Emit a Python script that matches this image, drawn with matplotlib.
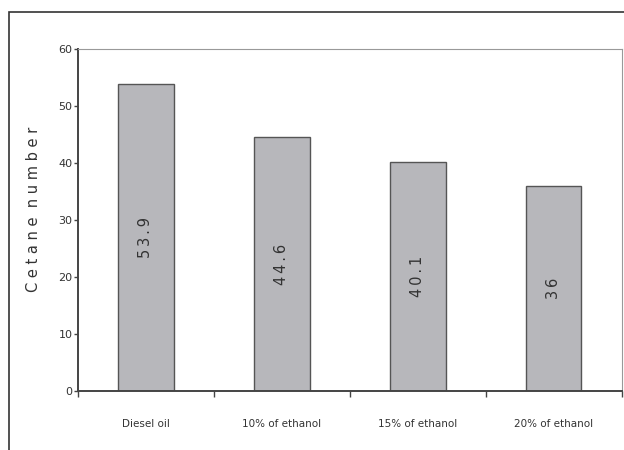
import matplotlib.pyplot as plt
from matplotlib.patches import Rectangle
import numpy as np

# Data
fuels = ['Diesel oil', '10% of ethanol', '15% of ethanol', '20% of ethanol']
cetane = [53.9, 44.6, 40.1, 36]

fig = plt.figure(figsize=(6.24, 4.5), dpi=100)
ax = fig.add_axes([0.125, 0.131, 0.871, 0.760])

# outer chart frame, cut off at the right and bottom edges
fig.patches.append(Rectangle((0.014, -0.1), 1.2, 1.073, transform=fig.transFigure,
                             fill=False, edgecolor='#333333', linewidth=1.2))

x = np.arange(len(fuels))
bars = ax.bar(x, cetane, width=0.41, color='#b7b7bb', edgecolor='#555555', linewidth=1.0)

# value written along each bar, slightly letter-spaced
for b, v in zip(bars, cetane):
    lab = '\u2009'.join(f'{v:g}')
    ax.text(b.get_x() + b.get_width() / 2, b.get_height() / 2, lab,
            rotation=90, ha='center', va='center', fontsize=10.5, color='#333333')

ax.set_xlim(-0.5, len(fuels) - 0.5)
ax.set_ylim(0, 60)
ax.set_yticks(range(0, 61, 10))
ax.tick_params(axis='y', labelsize=8, length=3, width=1, color='#444444',
               labelcolor='#333333', pad=1)

# category names between boundary ticks
ax.set_xticks(np.arange(len(fuels) + 1) - 0.5)
ax.set_xticklabels([])
ax.tick_params(axis='x', length=4, width=1, color='#444444')
for i, name in enumerate(fuels):
    ax.text(i, -5.8, name, ha='center', va='center', fontsize=7.5, color='#333333')

ax.set_ylabel('C e t a n e  n u m b e r', fontsize=10.5, color='#333333')
ax.yaxis.set_label_coords(-0.068, 0.53)

for s in ['left', 'bottom']:
    ax.spines[s].set_color('#444444')
    ax.spines[s].set_linewidth(1.4)
for s in ['top', 'right']:
    ax.spines[s].set_color('#999999')
    ax.spines[s].set_linewidth(0.8)

plt.savefig('out.png', dpi=100)
